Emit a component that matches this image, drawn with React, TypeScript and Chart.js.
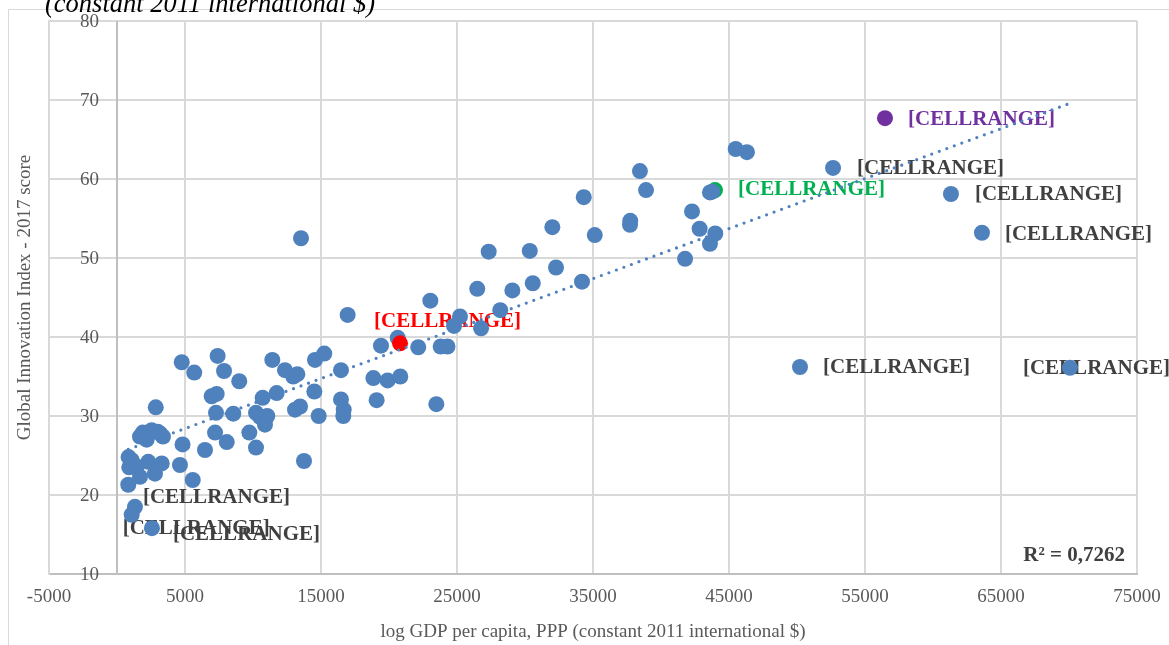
import { useEffect, useRef } from "react";
import { Chart, registerables } from "chart.js";

Chart.register(...registerables);

// ---------- data ----------
const gdpPerCapita = [
  45490, 46320, 38450, 38900, 34320, 43770, 43600, 42280, 37740, 37720,
  32010, 35130, 42840, 43990, 43600, 41770, 27330, 30350, 32280, 30570,
  34190, 29070, 26490, 23040, 16960, 28180, 25220, 24780, 26770, 20640,
  19410, 22150, 23800, 24300, 15240, 14560, 16470, 18850, 19900, 20830,
  14510, 16470, 19090, 23480, 16670, 16640, 14830, 13460, 13530, 4760,
  7400, 5680, 7870, 8990, 11420, 12350, 12960, 13260, 6960, 7330,
  10710, 11740, 7280, 8550, 10220, 10510, 11050, 10880, 13090, 4820,
  7210, 8070, 6470, 9730, 10220, 13750, 2850, 1690, 2550, 3160,
  2180, 3380, 1080, 1450, 2300, 3290, 2790, 1690, 830, 4630,
  5570, 1900, 3000, 850, 900,
];
const innovationScore = [
  63.8, 63.4, 61.0, 58.6, 57.7, 58.4, 58.3, 55.9, 54.7, 54.2,
  53.9, 52.9, 53.7, 53.1, 51.8, 49.9, 50.8, 50.9, 48.8, 46.8,
  47.0, 45.9, 46.1, 44.6, 42.8, 43.4, 42.6, 41.4, 41.1, 39.9,
  38.9, 38.7, 38.8, 38.8, 37.9, 37.1, 35.8, 34.8, 34.5, 35.0,
  33.1, 32.1, 32.0, 31.5, 30.8, 30.0, 30.0, 31.2, 52.5, 36.8,
  37.6, 35.5, 35.7, 34.4, 37.1, 35.8, 35.0, 35.3, 32.5, 32.8,
  32.3, 32.9, 30.4, 30.3, 30.4, 29.9, 30.0, 28.9, 30.8, 26.4,
  27.9, 26.7, 25.7, 27.9, 26.0, 24.3, 31.1, 27.4, 28.2, 27.8,
  27.0, 27.4, 24.4, 23.6, 24.2, 24.0, 22.7, 22.3, 21.3, 23.8,
  21.9, 27.9, 28.0, 24.8, 23.5,
];

const labeledGdp = [52650, 61320, 63600, 50220, 70070, 1320, 1080, 2570];
const labeledScore = [61.4, 58.1, 53.2, 36.2, 36.1, 18.5, 17.5, 15.8];
const labeledText = [
  "[CELLRANGE]", "[CELLRANGE]", "[CELLRANGE]", "[CELLRANGE]",
  "[CELLRANGE]", "[CELLRANGE]", "[CELLRANGE]", "[CELLRANGE]",
];

const redGdp = [20810];
const redScore = [39.2];
const redText = ["[CELLRANGE]"];

const greenGdp = [43970];
const greenScore = [58.6];
const greenText = ["[CELLRANGE]"];

const purpleGdp = [56470];
const purpleScore = [67.7];
const purpleText = ["[CELLRANGE]"];

const xAxisMin = -5000;
const xAxisMax = 75000;
const xAxisStep = 10000;
const yAxisMin = 10;
const yAxisMax = 80;
const yAxisStep = 10;

const chartTitle = "(constant 2011 international $)";
const xAxisTitle = "log GDP per capita, PPP (constant 2011 international $)";
const yAxisTitle = "Global Innovation Index - 2017 score";
const rSquaredText = "R² = 0,7262";

// ---------- styling / layout ----------
const SERIF = "'Liberation Serif', 'Times New Roman', Times, serif";
const BLUE = "#4f81bd";
const RED = "#ff0000";
const GREEN = "#00b050";
const PURPLE = "#7030a0";
const LABEL_GRAY = "#404040";
const AXIS_TEXT = "#595959";
const GRID = "#d9d9d9";
const AXIS_LINE = "#bfbfbf";

// label offsets in pixels from the marker (left edge of text, vertical centre)
const labeledOffsets = [
  [24, 1], [24, 1], [23, 2], [23, 1], [-47, 1], [8, -9], [-9, 14], [21, 6],
];
const redOffsets = [[-26, -22]];
const greenOffsets = [[23, 0]];
const purpleOffsets = [[23, 1]];

const toPoints = (xs: number[], ys: number[]) => xs.map((x, i) => ({ x, y: ys[i] }));

function linearFit(xs: number[], ys: number[]) {
  const n = xs.length;
  const mx = xs.reduce((a, b) => a + b, 0) / n;
  const my = ys.reduce((a, b) => a + b, 0) / n;
  let sxy = 0;
  let sxx = 0;
  for (let i = 0; i < n; i++) {
    sxy += (xs[i] - mx) * (ys[i] - my);
    sxx += (xs[i] - mx) * (xs[i] - mx);
  }
  const slope = sxy / sxx;
  return { slope, intercept: my - slope * mx };
}

export default function App() {
  const canvasRef = useRef<HTMLCanvasElement | null>(null);

  useEffect(() => {
    const canvas = canvasRef.current;
    if (!canvas) return;

    const allX = [...gdpPerCapita, ...labeledGdp, ...redGdp, ...greenGdp, ...purpleGdp];
    const allY = [...innovationScore, ...labeledScore, ...redScore, ...greenScore, ...purpleScore];
    const fit = linearFit(allX, allY);
    const minX = Math.min(...allX);
    const maxX = Math.max(...allX);
    const trendPoints = [
      { x: minX, y: fit.intercept + fit.slope * minX },
      { x: maxX, y: fit.intercept + fit.slope * maxX },
    ];

    const labelSets = [
      { datasetIndex: 1, texts: redText, offsets: redOffsets, color: RED },
      { datasetIndex: 2, texts: purpleText, offsets: purpleOffsets, color: PURPLE },
      { datasetIndex: 3, texts: labeledText, offsets: labeledOffsets, color: LABEL_GRAY },
      { datasetIndex: 5, texts: greenText, offsets: greenOffsets, color: GREEN },
    ];

    const overlay = {
      id: "overlay",
      beforeDatasetsDraw(chart: any) {
        const ctx = chart.ctx as CanvasRenderingContext2D;
        const xs = chart.scales.x;
        const area = chart.chartArea;
        const x0 = xs.getPixelForValue(0);
        ctx.save();
        ctx.strokeStyle = AXIS_LINE;
        ctx.lineWidth = 2;
        ctx.beginPath();
        ctx.moveTo(x0, area.top);
        ctx.lineTo(x0, area.bottom);
        ctx.stroke();

        ctx.font = `bold 21px ${SERIF}`;
        ctx.textBaseline = "middle";
        ctx.textAlign = "left";
        labelSets.forEach((set) => {
          const meta = chart.getDatasetMeta(set.datasetIndex);
          meta.data.forEach((pt: any, i: number) => {
            ctx.fillStyle = set.color;
            ctx.fillText(set.texts[i], pt.x + set.offsets[i][0], pt.y + set.offsets[i][1]);
          });
        });
        ctx.restore();
      },
      afterDraw(chart: any) {
        const ctx = chart.ctx as CanvasRenderingContext2D;
        const xs = chart.scales.x;
        const ys = chart.scales.y;
        const area = chart.chartArea;
        const x0 = xs.getPixelForValue(0);
        ctx.save();

        // outer chart border (top and left visible)
        ctx.strokeStyle = GRID;
        ctx.lineWidth = 1;
        ctx.beginPath();
        ctx.moveTo(8.5, 645);
        ctx.lineTo(8.5, 9.5);
        ctx.lineTo(1169, 9.5);
        ctx.stroke();

        // top title fragment
        ctx.fillStyle = "#000000";
        ctx.font = `italic 26.5px ${SERIF}`;
        ctx.textAlign = "left";
        ctx.textBaseline = "alphabetic";
        ctx.fillText(chartTitle, 45, 11.5);

        // y tick labels next to the axis at x = 0
        ctx.fillStyle = AXIS_TEXT;
        ctx.font = `19px ${SERIF}`;
        ctx.textAlign = "right";
        ctx.textBaseline = "middle";
        ys.ticks.forEach((t: any) => {
          ctx.fillText(String(t.value), x0 - 18, ys.getPixelForValue(t.value) + 1);
        });

        // x tick labels
        ctx.textAlign = "center";
        xs.ticks.forEach((t: any) => {
          ctx.fillText(String(t.value), xs.getPixelForValue(t.value), area.bottom + 23);
        });

        // axis titles
        ctx.fillText(xAxisTitle, (area.left + area.right) / 2, 632);
        ctx.save();
        ctx.translate(25, (area.top + area.bottom) / 2);
        ctx.rotate(-Math.PI / 2);
        ctx.fillText(yAxisTitle, 0, 0);
        ctx.restore();

        // R squared
        ctx.fillStyle = LABEL_GRAY;
        ctx.font = `bold 21px ${SERIF}`;
        ctx.textAlign = "right";
        ctx.fillText(rSquaredText, area.right - 12, area.bottom - 18);
        ctx.restore();
      },
    };

    const markerBase = { pointRadius: 8, pointHoverRadius: 8, pointBorderWidth: 0, showLine: false };

    const chart = new Chart(canvas, {
      type: "scatter",
      data: {
        datasets: [
          {
            data: trendPoints,
            showLine: true,
            borderColor: BLUE,
            borderWidth: 3.2,
            borderDash: [0, 8],
            borderCapStyle: "round",
            pointRadius: 0,
            fill: false,
            order: 0,
          } as any,
          { ...markerBase, data: toPoints(redGdp, redScore), backgroundColor: RED, borderColor: RED, order: 1 },
          { ...markerBase, data: toPoints(purpleGdp, purpleScore), backgroundColor: PURPLE, borderColor: PURPLE, order: 1 },
          { ...markerBase, data: toPoints(labeledGdp, labeledScore), backgroundColor: BLUE, borderColor: BLUE, order: 2 },
          { ...markerBase, data: toPoints(gdpPerCapita, innovationScore), backgroundColor: BLUE, borderColor: BLUE, order: 2 },
          { ...markerBase, data: toPoints(greenGdp, greenScore), backgroundColor: GREEN, borderColor: GREEN, order: 3 },
        ],
      },
      options: {
        responsive: false,
        animation: false,
        events: [],
        layout: { padding: { left: 49, top: 21, right: 32, bottom: 71 } },
        plugins: {
          legend: { display: false },
          tooltip: { enabled: false },
          title: { display: false },
        },
        scales: {
          x: {
            type: "linear",
            min: xAxisMin,
            max: xAxisMax,
            ticks: { stepSize: xAxisStep, display: false },
            grid: { color: GRID, lineWidth: 2, drawTicks: false },
            border: { color: AXIS_LINE, width: 2 },
          },
          y: {
            type: "linear",
            min: yAxisMin,
            max: yAxisMax,
            ticks: { stepSize: yAxisStep, display: false },
            grid: { color: GRID, lineWidth: 2, drawTicks: false },
            border: { color: GRID, width: 2 },
          },
        },
      },
      plugins: [overlay],
    });

    return () => chart.destroy();
  }, []);

  return (
    <div style={{ position: "absolute", left: 0, top: 0, width: 1169, height: 645, background: "#ffffff" }}>
      <canvas ref={canvasRef} width={1169} height={645} style={{ display: "block" }} />
    </div>
  );
}
